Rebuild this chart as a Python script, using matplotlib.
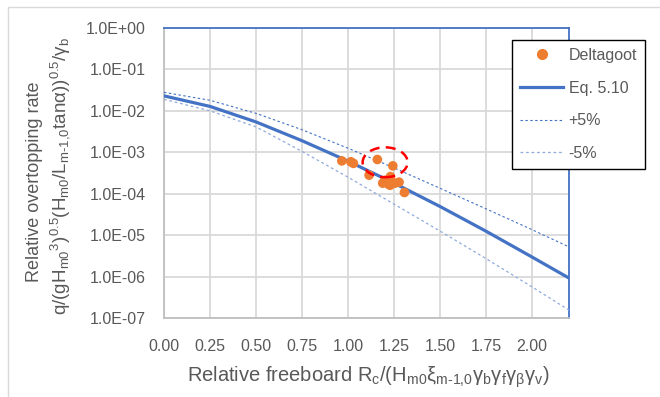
import matplotlib
matplotlib.use("Agg")
import matplotlib.pyplot as plt
from matplotlib.patches import Ellipse, Rectangle
from matplotlib.lines import Line2D

plt.rcParams['font.family'] = ['Liberation Sans', 'DejaVu Sans']
plt.rcParams['mathtext.fontset'] = 'custom'
plt.rcParams['mathtext.rm'] = 'Liberation Sans'
plt.rcParams['mathtext.it'] = 'Liberation Sans:italic'
plt.rcParams['mathtext.bf'] = 'Liberation Sans:bold'

# curves
freeboard = [0.0, 0.25, 0.5, 0.75, 1.0, 1.25, 1.5, 1.75, 2.0, 2.2]
eq510 = [0.023, 0.0128, 5.4e-3, 1.9e-3, 6.1e-4, 1.8e-4, 4.9e-5, 1.24e-5, 2.95e-6, 9.2e-7]
plus5 = [0.028, 0.018, 8.7e-3, 3.5e-3, 1.25e-3, 4.2e-4, 1.35e-4, 4.3e-5, 1.35e-5, 5.2e-6]
minus5 = [0.019, 0.010, 4.1e-3, 1.05e-3, 2.5e-4, 5.6e-5, 1.25e-5, 2.7e-6, 5.6e-7, 1.55e-7]

# Deltagoot measurements
delta_x = [0.966, 1.015, 1.029, 1.159, 1.243, 1.114, 1.230, 1.200,
           1.188, 1.219, 1.228, 1.255, 1.277, 1.306]
delta_q = [6.2e-4, 5.9e-4, 5.4e-4, 6.7e-4, 4.7e-4, 2.8e-4, 2.6e-4, 2.1e-4,
           1.8e-4, 1.7e-4, 1.6e-4, 1.8e-4, 1.9e-4, 1.07e-4]

xticks = [0.0, 0.25, 0.5, 0.75, 1.0, 1.25, 1.5, 1.75, 2.0]
xtick_labels = ["0.00", "0.25", "0.50", "0.75", "1.00", "1.25", "1.50", "1.75", "2.00"]
yticks = [1e0, 1e-1, 1e-2, 1e-3, 1e-4, 1e-5, 1e-6, 1e-7]
ytick_labels = ["1.0E+00", "1.0E-01", "1.0E-02", "1.0E-03",
                "1.0E-04", "1.0E-05", "1.0E-06", "1.0E-07"]

blue = "#4472C4"
light_blue = "#8FAADC"
orange = "#ED7D31"
grid_gray = "#D9D9D9"
text_gray = "#595959"

W, H = 660, 397
fig = plt.figure(figsize=(6.6, 3.97), dpi=100)
fig.patches.append(Rectangle((8 / W, -0.1), 1.0, 1 - 7 / H + 0.1, transform=fig.transFigure,
                             fill=False, edgecolor=grid_gray, linewidth=1))

ax = fig.add_axes([164 / W, 1 - 318 / H, (569 - 164) / W, (318 - 28) / H])
ax.set_yscale("log")
ax.set_xlim(0, 2.2)
ax.set_ylim(1e-7, 1e0)

ax.set_xticks(xticks)
ax.set_xticklabels(xtick_labels)
ax.set_yticks(yticks)
ax.set_yticklabels(ytick_labels)
ax.yaxis.set_minor_locator(matplotlib.ticker.NullLocator())
ax.tick_params(length=0, labelsize=11.5, labelcolor=text_gray)
ax.tick_params(axis="x", pad=15)
ax.tick_params(axis="y", pad=13)
ax.grid(True, color=grid_gray, linewidth=1.3)
ax.set_axisbelow(True)

for side in ["left", "bottom"]:
    ax.spines[side].set_color("#BFBFBF")
    ax.spines[side].set_linewidth(1.3)
for side in ["top", "right"]:
    ax.spines[side].set_color(blue)
    ax.spines[side].set_linewidth(1.3)

ax.plot(freeboard, plus5, color=blue, linewidth=0.8, linestyle=(0, (2.2, 2.2)), zorder=3)
ax.plot(freeboard, minus5, color=light_blue, linewidth=0.9, linestyle=(0, (2.2, 2.2)), zorder=3)
ax.plot(freeboard, eq510, color=blue, linewidth=2.3, zorder=4)
ax.scatter(delta_x, delta_q, s=48, color=orange, edgecolors="none", zorder=5)

# red dashed ring round the outliers
ax.add_patch(Ellipse((0.546, 0.537), 0.111, 0.103, transform=ax.transAxes, fill=False,
                     edgecolor="red", linewidth=1.8, linestyle=(0, (4, 2.5)), zorder=6))

handles = [
    Line2D([], [], marker="o", linestyle="none", color=orange, markersize=7),
    Line2D([], [], color=blue, linewidth=2.3),
    Line2D([], [], color=blue, linewidth=0.8, linestyle=(0, (2.2, 2.2))),
    Line2D([], [], color=light_blue, linewidth=0.9, linestyle=(0, (2.2, 2.2))),
]
leg = fig.legend(handles, ["Deltagoot", "Eq. 5.10", "+5%", "-5%"], loc="upper left",
                 bbox_to_anchor=(512 / W, 1 - 40 / H), fontsize=11.5, frameon=True,
                 fancybox=False, edgecolor="black", framealpha=1, labelspacing=1.1,
                 borderpad=0.5, handlelength=2.7, handletextpad=0.35, borderaxespad=0)
leg.get_frame().set_linewidth(1)
for t in leg.get_texts():
    t.set_color(text_gray)

fig.text(368 / W, 1 - 377 / H,
         r"Relative freeboard R$_\mathregular{c}$/(H$_\mathregular{m0}$ξ$_\mathregular{m\text{-}1{,}0}$"
         r"γ$_\mathregular{b}$γ$_\mathregular{f}$γ$_\mathregular{β}$γ$_\mathregular{v}$)",
         ha="center", va="center", fontsize=14.5, color=text_gray)
fig.text(35 / W, 1 - 182 / H, "Relative overtopping rate", rotation=90,
         ha="center", va="center", fontsize=13, color=text_gray)
fig.text(60 / W, 1 - 176 / H,
         r"q/(gH$_\mathregular{m0}$$^\mathregular{3}$)$^\mathregular{0.5}$(H$_\mathregular{m0}$/"
         r"L$_\mathregular{m\text{-}1{,}0}$tanα))$^\mathregular{0.5}$/γ$_\mathregular{b}$",
         rotation=90, ha="center", va="center", fontsize=13.5, color=text_gray)

fig.savefig("out.png", dpi=100)
